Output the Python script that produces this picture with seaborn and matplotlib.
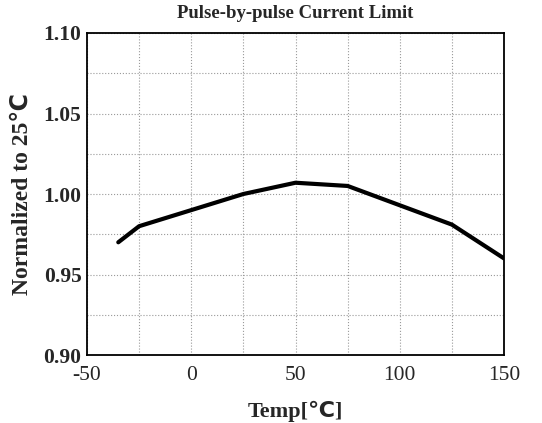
import numpy as np
import pandas as pd
import matplotlib
matplotlib.use("Agg")
import matplotlib.pyplot as plt
import seaborn as sns
from matplotlib.ticker import MultipleLocator

# data
temp_c = [-35, -25, 25, 50, 75, 125, 150]
normalized = [0.970, 0.980, 1.000, 1.007, 1.005, 0.981, 0.960]

sns.set_style("white")
plt.rcParams['font.family'] = ['Liberation Serif', 'DejaVu Sans']
plt.rcParams['axes.unicode_minus'] = False

df = pd.DataFrame({'temp': temp_c, 'norm': normalized})

fig = plt.figure(figsize=(5.42, 4.23), dpi=100)
ax = fig.add_axes([87 / 542, 1 - 355 / 423, (504 - 87) / 542, (355 - 33) / 423])

sns.lineplot(data=df, x='temp', y='norm', ax=ax, color='black', linewidth=3, sort=False)

ax.set_xlim(-50, 150)
ax.set_ylim(0.90, 1.10)
ax.xaxis.set_major_locator(MultipleLocator(50))
ax.xaxis.set_minor_locator(MultipleLocator(25))
ax.yaxis.set_major_locator(MultipleLocator(0.05))
ax.yaxis.set_minor_locator(MultipleLocator(0.025))
ax.set_yticklabels([f"{v:.2f}" for v in ax.get_yticks()])

ax.grid(True, which='both', color='#9a9a9a', linestyle=':', linewidth=0.8)
ax.tick_params(which='both', direction='in', length=4, width=1, color='black',
               top=False, right=False)
ax.tick_params(axis='x', labelsize=15.5, pad=8)
ax.tick_params(axis='y', labelsize=15.5, pad=4)
for lbl in ax.get_yticklabels():
    lbl.set_fontweight('bold')
for sp in ax.spines.values():
    sp.set_color('black')
    sp.set_linewidth(1.3)

ax.set_title("Pulse-by-pulse Current Limit", fontsize=13.5, fontweight='bold', pad=11)
ax.set_xlabel("Temp[℃]", fontsize=16, fontweight='bold', labelpad=11)
ax.set_ylabel("Normalized to 25℃", fontsize=17, fontweight='bold', labelpad=8)

fig.savefig("out.png", dpi=100)
